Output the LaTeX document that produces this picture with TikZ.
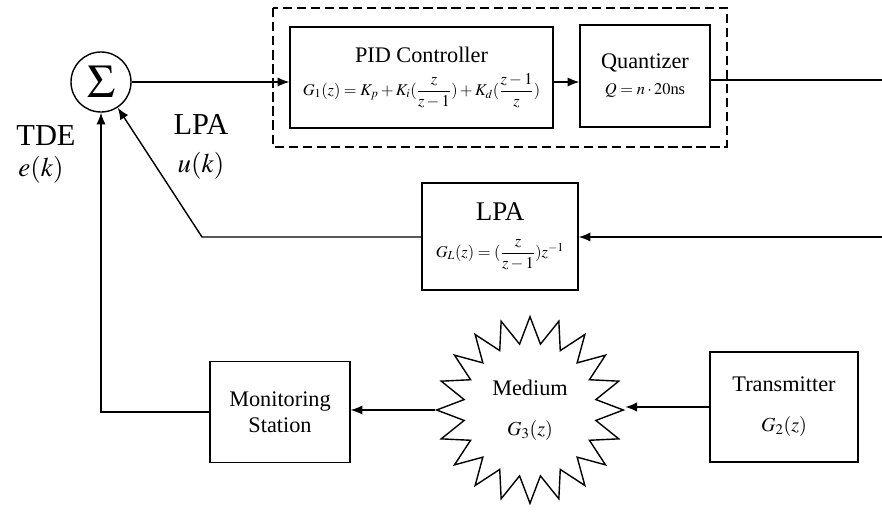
\documentclass[tikz,border=0pt]{standalone}
\usepackage{amsmath}
\usepackage{mathptmx}
\usepackage{fontspec}
\setmainfont{Liberation Serif}
\usetikzlibrary{arrows.meta, shapes.geometric, positioning, calc}
\newcommand{\fml}[1]{{\fontsize{14}{17}\selectfont #1}}
\newcommand{\bigfml}[1]{{\fontsize{17}{20}\selectfont #1}}

\begin{document}
\begin{tikzpicture}[x=0.03cm, y=-0.03cm, line width=1.2pt,
  >={Latex[length=10pt,width=8pt]},
  blk/.style={draw, rectangle, align=center, inner sep=2pt, font=\fontsize{19}{26}\selectfont},
  sumnode/.style={draw, circle, minimum size=1.8cm, inner sep=0pt, font=\fontsize{40}{40}\selectfont},
  medium/.style={draw, star, star points=20, star point ratio=1.4, minimum size=5.6cm, inner sep=0pt, align=center, font=\fontsize{19}{26}\selectfont},
  biglbl/.style={inner sep=0pt, font=\fontsize{26}{30}\selectfont},
  smlbl/.style={inner sep=0pt, font=\fontsize{23}{26}\selectfont},
  dashbox/.style={dash pattern=on 8pt off 4pt, line width=1.1pt}]
\useasboundingbox (0,0) rectangle (882,518);
% summing junction and labels
\node[sumnode] (sum) at (101,82) {$\Sigma$};
\node[biglbl] (tde) at (46,136) {TDE};
\node[smlbl] (ek) at (41,170) {$e(k)$};
\node[biglbl] (lpalbl) at (201,124) {LPA};
\node[smlbl] (uk) at (201,166) {$u(k)$};
% forward path
\draw[dashbox] (273,8) rectangle (727,147);
\node[blk, minimum width=7.89cm, minimum height=3.03cm] (pid) at (421.5,77.5)
  {PID Controller\\[2pt]\fml{$G_1(z)=K_p+K_i(\dfrac{z}{z-1})+K_d(\dfrac{z-1}{z})$}};
\node[blk, minimum width=3.9cm, minimum height=3.06cm] (quant) at (645,76)
  {Quantizer\\[-4pt]\fml{$Q=n\cdot20$ns}};
\coordinate (qout) at (882,80);
% LPA feedback
\node[blk, minimum width=4.68cm, minimum height=3.21cm, font=\fontsize{23}{28}\selectfont] (lpa) at (500,236.5)
  {LPA\\[3pt]\fml{$G_L(z)=(\dfrac{z}{z-1})z^{-1}$}};
\coordinate (lpain) at (882,237);
\coordinate (bend) at (202,237);
% bottom row
\node[blk, minimum width=4.2cm, minimum height=3.03cm, font=\fontsize{19}{22}\selectfont] (mon) at (280,412) {Monitoring\\Station};
\node[medium] (med) at (530,410) {Medium\\[8pt]\bigfml{$G_3(z)$}};
\node[blk, minimum width=4.44cm, minimum height=3.3cm] (trans) at (784,407) {Transmitter\\[8pt]\bigfml{$G_2(z)$}};
% connectors
\draw[->] (sum.east) -- (sum.east -| pid.west);
\draw[->] (pid.east |- sum.east) -- (sum.east -| quant.west);
\draw (quant.east |- qout) -- (qout);
\draw[->] (lpain) -- (lpain -| lpa.east);
\draw[->] (lpa.west |- lpain) -- (bend) -- (sum);
\draw[->] (trans.west) -- (trans.west -| med.east);
\draw[->] (med.west) -- (med.west -| mon.east);
\draw[->] (mon.west) -| (sum.south);
\end{tikzpicture}
\end{document}
